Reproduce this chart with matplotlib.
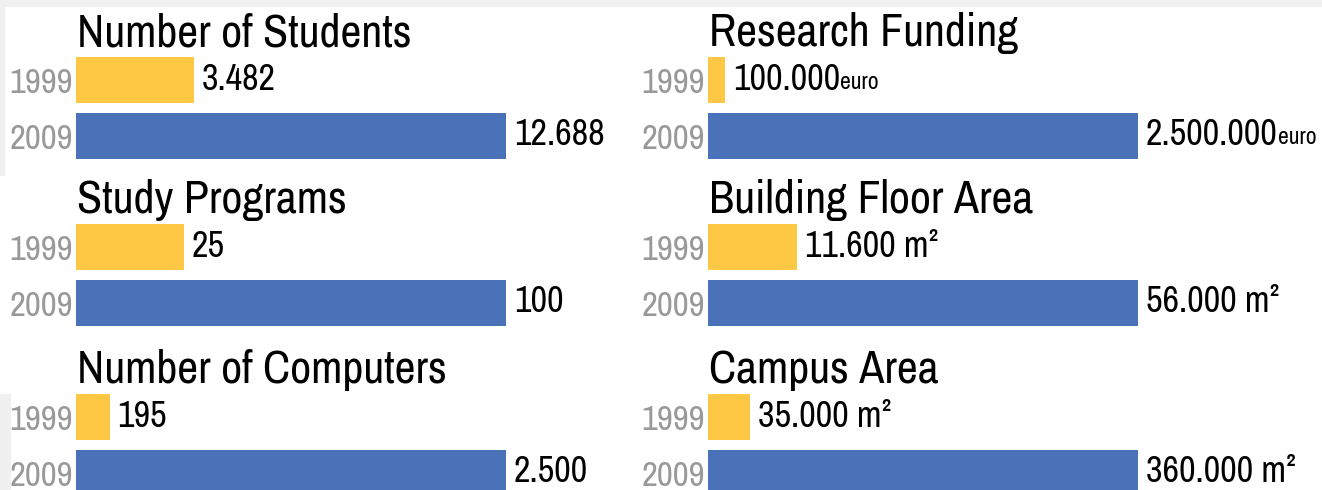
import matplotlib
matplotlib.use("Agg")
import matplotlib.pyplot as plt
from matplotlib.patches import Rectangle

plt.rcParams["font.family"] = ["Archivo Narrow", "DejaVu Sans"]
plt.rcParams["font.stretch"] = "condensed"

# panel data, row-major (left column, right column)
titles = ["Number of Students", "Research Funding",
          "Study Programs", "Building Floor Area",
          "Number of Computers", "Campus Area"]
years = ["1999", "2009"]
values_1999 = [3482, 100000, 25, 11600, 195, 35000]
values_2009 = [12688, 2500000, 100, 56000, 2500, 360000]
labels_1999 = ["3.482", "100.000", "25", "11.600 m\u00b2", "195", "35.000 m\u00b2"]
labels_2009 = ["12.688", "2.500.000", "100", "56.000 m\u00b2", "2.500", "360.000 m\u00b2"]
units = ["", "euro", "", "", "", ""]

YELLOW = "#FEC844"
BLUE = "#4A72B8"
GRAY = "#999999"

W, H = 1322, 490
fig = plt.figure(figsize=(W / 100, H / 100), dpi=100)

# screenshot border remnants
fig.patches.append(Rectangle((0, 1 - 6 / H), 1, 6 / H, transform=fig.transFigure,
                             color="#f0f0f0", zorder=0))
fig.patches.append(Rectangle((0, 1 - 175 / H), 4 / W, 175 / H, transform=fig.transFigure,
                             color="#f0f0f0", zorder=0))
fig.patches.append(Rectangle((0, 0), 10 / W, 96 / H, transform=fig.transFigure,
                             color="#f0f0f0", zorder=0))

col_left = [76, 708]
row_top = [57, 224, 394]
ax_w, ax_h = 430, 102
bar_h = 0.836

for i, title in enumerate(titles):
    col, row = i % 2, i // 2
    left = col_left[col]
    bottom = H - row_top[row] - ax_h
    ax = fig.add_axes([left / W, bottom / H, ax_w / W, ax_h / H])
    ax.patch.set_alpha(0)

    vals = [values_1999[i], values_2009[i]]
    ax.barh([1, 0], vals, height=bar_h, color=[YELLOW, BLUE])
    ax.set_xlim(0, values_2009[i])
    ax.set_ylim(-bar_h / 2, 1 + bar_h / 2)

    ax.set_yticks([1, 0], years)
    ax.tick_params(axis="y", length=0, pad=2, labelsize=25, labelcolor=GRAY)
    ax.set_xticks([])
    for s in ax.spines.values():
        s.set_visible(False)

    ax.annotate(title, xy=(0, 1), xycoords="axes fraction", xytext=(1, 11),
                textcoords="offset pixels", va="baseline", ha="left",
                fontsize=33, annotation_clip=False)

    for yy, v, lab in [(1, values_1999[i], labels_1999[i]),
                       (0, values_2009[i], labels_2009[i])]:
        t = ax.annotate(lab, xy=(v, yy), xytext=(8, 1), textcoords="offset pixels",
                        va="center", ha="left", fontsize=26, annotation_clip=False)
        if units[i]:
            ax.annotate(units[i], xy=(1, 0), xycoords=t, xytext=(0, 3),
                        textcoords="offset pixels", va="bottom", ha="left",
                        fontsize=17, fontweight="bold")

fig.savefig("out.png", dpi=100)
